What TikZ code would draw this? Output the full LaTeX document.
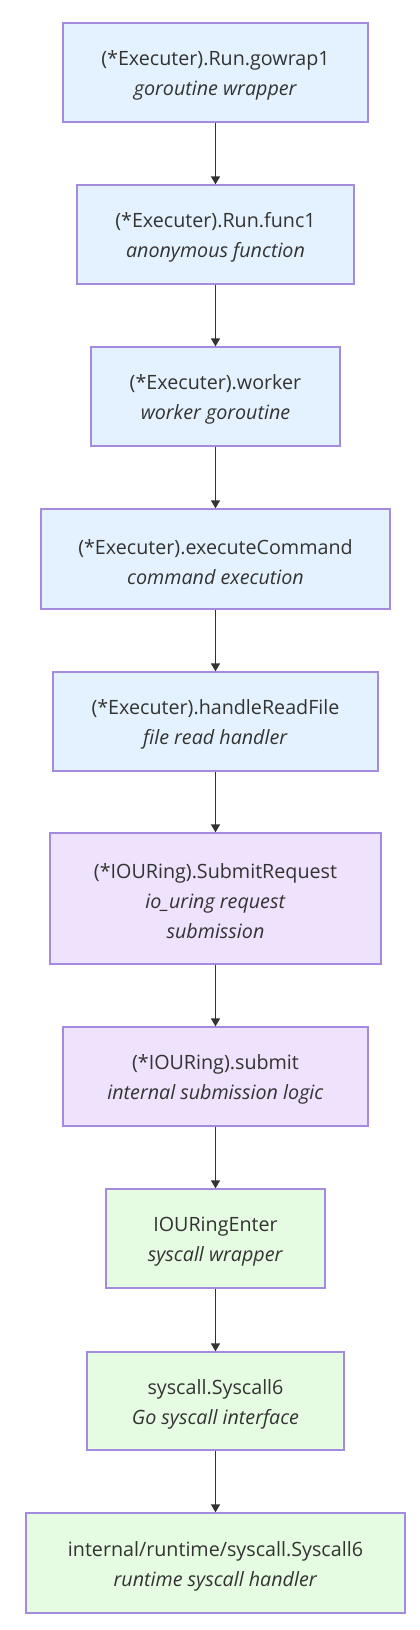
\documentclass[tikz,border=0pt]{standalone}
\usepackage{fontspec}
\setmainfont{Open Sans}
\usetikzlibrary{arrows.meta}
\definecolor{bluef}{HTML}{E3F2FE}
\definecolor{purplef}{HTML}{EEE2FC}
\definecolor{greenf}{HTML}{E6FCE2}
\definecolor{edgec}{HTML}{A58BE0}
\definecolor{txt}{HTML}{333333}
\begin{document}
\begin{tikzpicture}[x=1pt,y=-1pt,
  box/.style={draw=edgec,line width=1.3pt,rectangle,inner sep=0pt},
  bluebox/.style={box,fill=bluef},
  purplebox/.style={box,fill=purplef},
  greenbox/.style={box,fill=greenf},
  lbl/.style={inner sep=0pt,align=center,text=txt,font=\fontsize{19.7}{30}\selectfont},
  conn/.style={draw=txt,line width=1.4pt,-{Triangle[length=8pt,width=9pt]}}]
\useasboundingbox (0,0) rectangle (420,1630);
\node[bluebox,minimum width=305pt,minimum height=99pt] (n1) at (215.5,72.5) {};
\node[bluebox,minimum width=277pt,minimum height=99pt] (n2) at (215.5,234.5) {};
\node[bluebox,minimum width=249pt,minimum height=99pt] (n3) at (215.5,396.5) {};
\node[bluebox,minimum width=349pt,minimum height=100pt] (n4) at (215.5,559) {};
\node[bluebox,minimum width=325pt,minimum height=99pt] (n5) at (215.5,721.5) {};
\node[purplebox,minimum width=331pt,minimum height=131pt] (n6) at (215.5,898.5) {};
\node[purplebox,minimum width=305pt,minimum height=99pt] (n7) at (215.5,1076.5) {};
\node[greenbox,minimum width=219pt,minimum height=99pt] (n8) at (215.5,1238.5) {};
\node[greenbox,minimum width=257pt,minimum height=98pt] (n9) at (215.5,1401) {};
\node[greenbox,minimum width=379pt,minimum height=100pt] (n10) at (215.5,1563) {};
\node[lbl] (t1) at ([yshift=-3pt]n1.center) {(*Executer).Run.gowrap1\\\textit{goroutine wrapper}};
\node[lbl] (t2) at ([yshift=-3pt]n2.center) {(*Executer).Run.func1\\\textit{anonymous function}};
\node[lbl] (t3) at ([yshift=-3pt]n3.center) {(*Executer).worker\\\textit{worker goroutine}};
\node[lbl] (t4) at ([yshift=-3pt]n4.center) {(*Executer).executeCommand\\\textit{command execution}};
\node[lbl] (t5) at ([yshift=-3pt]n5.center) {(*Executer).handleReadFile\\\textit{file read handler}};
\node[lbl] (t6) at ([yshift=-3pt]n6.center) {(*IOURing).SubmitRequest\\\textit{io\_uring request}\\\textit{submission}};
\node[lbl] (t7) at ([yshift=-3pt]n7.center) {(*IOURing).submit\\\textit{internal submission logic}};
\node[lbl] (t8) at ([yshift=-3pt]n8.center) {IOURingEnter\\\textit{syscall wrapper}};
\node[lbl] (t9) at ([yshift=-3pt]n9.center) {syscall.Syscall6\\\textit{Go syscall interface}};
\node[lbl] (t10) at ([yshift=-3pt]n10.center) {internal/runtime/syscall.Syscall6\\\textit{runtime syscall handler}};
\foreach \a/\b in {n1/n2,n2/n3,n3/n4,n4/n5,n5/n6,n6/n7,n7/n8,n8/n9,n9/n10}
  \draw[conn] (\a.south) -- (\b.north);
\end{tikzpicture}
\end{document}
